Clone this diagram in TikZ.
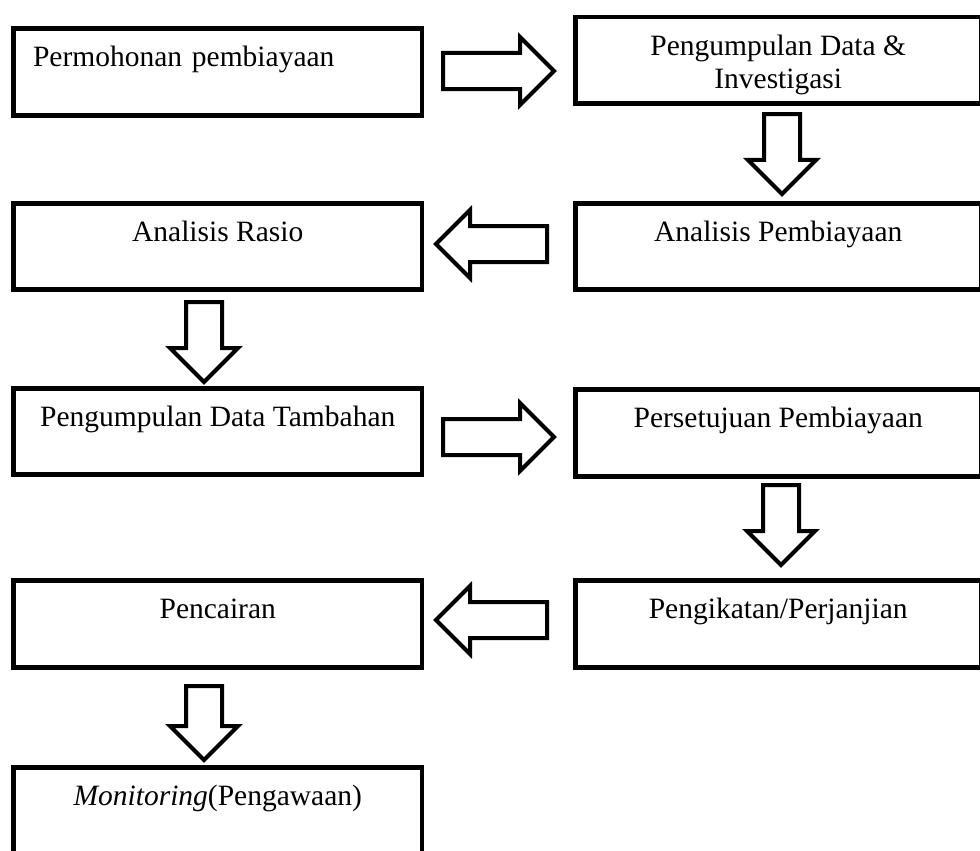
\documentclass[tikz,border=0pt]{standalone}
\usepackage{fontspec}
\setmainfont{Liberation Serif}
\usetikzlibrary{shapes.arrows}
\tikzstyle{barrow} = [single arrow, draw, line width=4pt, inner sep=16pt, minimum height=111pt, single arrow head extend=16pt, single arrow tip angle=90, anchor=tail]

\begin{document}
\begin{tikzpicture}[x=1pt, y=-1pt, every node/.style={font=\fontsize{29.5}{33}\selectfont},
    box/.style={draw, line width=4.5pt, anchor=north, inner sep=0pt, text height=38pt, text depth=48pt},
    lbox/.style={box, minimum width=408.5pt}, rbox/.style={box, minimum width=405.5pt}]
        \useasboundingbox (0,0) rectangle (980,851);

        % Boxes
        \node[lbox, text width=369.5pt, align=left, text depth=48.5pt] (mohon) at (217.75,26.5) {Permohonan pembiayaan};
        \node[rbox, align=center, text height=71pt, text depth=15pt] (data) at (778.25,15) {Pengumpulan Data \&\\Investigasi};
        \node[lbox] (rasio) at (217.75,201) {Analisis Rasio};
        \node[rbox] (analisis) at (778.25,201) {Analisis Pembiayaan};
        \node[lbox] (tambah) at (217.75,386) {Pengumpulan Data Tambahan};
        \node[rbox, text depth=49pt] (setuju) at (778.25,387) {Persetujuan Pembiayaan};
        \node[lbox, text depth=49pt] (cair) at (217.75,578) {Pencairan};
        \node[rbox, text depth=49pt] (ikat) at (778.25,578) {Pengikatan/Perjanjian};
        \node[lbox, text depth=52pt] (monitor) at (217.75,765) {\textit{Monitoring}(Pengawaan)};

        % Block arrows
        \node[barrow] (a1) at (441,71) {};
        \node[barrow, rotate=-90, minimum height=80pt] (a2) at (782,112) {};
        \node[barrow, rotate=180] (a3) at (549,244) {};
        \node[barrow, rotate=-90, minimum height=80pt] (a4) at (204,300) {};
        \node[barrow] (a5) at (441,437) {};
        \node[barrow, rotate=-90, minimum height=80pt] (a6) at (781,483) {};
        \node[barrow, rotate=180] (a7) at (549,620) {};
        \node[barrow, rotate=-90, minimum height=74pt] (a8) at (204,684) {};
      \end{tikzpicture}
\end{document}
